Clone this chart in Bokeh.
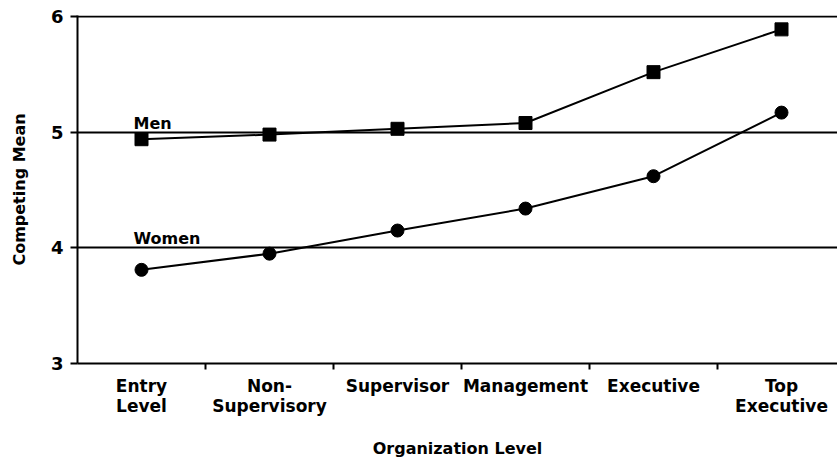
from bokeh.plotting import figure
from bokeh.models import Range1d, FixedTicker, ColumnDataSource
from bokeh.core.properties import value
from bokeh.embed import file_html
from bokeh.resources import INLINE

# ---- data ----
levels = ["Entry\nLevel", "Non-\nSupervisory", "Supervisor", "Management", "Executive", "Top\nExecutive"]
men = [4.94, 4.98, 5.03, 5.08, 5.52, 5.89]
women = [3.81, 3.95, 4.15, 4.34, 4.62, 5.17]
y_ticks = [3, 4, 5, 6]
grid_values = [4, 5, 6]
series_names = ["Men", "Women"]

xs = [i + 0.5 for i in range(len(levels))]
FONT = "DejaVu Sans"

p = figure(width=837, height=460, output_backend="svg", toolbar_location=None,
           x_range=Range1d(0, 5.9375), y_range=Range1d(3, 6.01),
           min_border_left=77, min_border_top=15, min_border_right=0, min_border_bottom=97)
p.outline_line_color = None
p.background_fill_color = "white"
p.border_fill_color = "white"

# grid
p.xgrid.visible = False
p.ygrid.ticker = FixedTicker(ticks=grid_values)
p.ygrid.grid_line_color = "black"
p.ygrid.grid_line_width = 2

# x axis
xa = p.xaxis[0]
xa.ticker = FixedTicker(ticks=xs, minor_ticks=[1, 2, 3, 4, 5])
xa.major_label_overrides = {x: lab for x, lab in zip(xs, levels)}
xa.major_tick_line_color = None
xa.major_tick_out = 0
xa.major_tick_in = 0
xa.minor_tick_line_color = "black"
xa.minor_tick_line_width = 2
xa.minor_tick_out = 6
xa.minor_tick_in = 0
xa.axis_line_color = "black"
xa.axis_line_width = 2
xa.major_label_text_font = FONT
xa.major_label_text_font_style = "bold"
xa.major_label_text_font_size = "17px"
xa.major_label_text_line_height = 1.0
xa.major_label_text_color = "black"
xa.major_label_standoff = 6
xa.axis_label = "Organization Level"
xa.axis_label_text_font = FONT
xa.axis_label_text_font_style = "bold"
xa.axis_label_text_font_size = "16px"
xa.axis_label_text_color = "black"
xa.axis_label_standoff = 20

# y axis
ya = p.yaxis[0]
ya.ticker = FixedTicker(ticks=y_ticks)
ya.minor_tick_line_color = None
ya.major_tick_line_color = "black"
ya.major_tick_line_width = 2
ya.major_tick_out = 7
ya.major_tick_in = 0
ya.axis_line_color = "black"
ya.axis_line_width = 2
ya.major_label_text_font = FONT
ya.major_label_text_font_style = "bold"
ya.major_label_text_font_size = "18px"
ya.major_label_text_color = "black"
ya.major_label_standoff = 7
ya.axis_label = "Competing Mean"
ya.axis_label_text_font = FONT
ya.axis_label_text_font_style = "bold"
ya.axis_label_text_font_size = "16px"
ya.axis_label_text_color = "black"
ya.axis_label_standoff = 19

# series
src = ColumnDataSource(dict(x=xs, men=men, women=women))
p.line("x", "men", source=src, line_color="black", line_width=2)
p.scatter("x", "men", source=src, marker="square", size=13, fill_color="black", line_color="black")
p.line("x", "women", source=src, line_color="black", line_width=2)
p.scatter("x", "women", source=src, marker="circle", size=13, fill_color="black", line_color="black")

# series labels, anchored on the first category above the nearest gridline
p.text(x=[xs[0], xs[0]], y=[5, 4], text=series_names,
       x_offset=-8, y_offset=-9, text_align="left", text_baseline="alphabetic",
       text_font=value(FONT), text_font_style="bold", text_font_size="16px", text_color="black")

open("out.html", "w").write(file_html(p, INLINE))
